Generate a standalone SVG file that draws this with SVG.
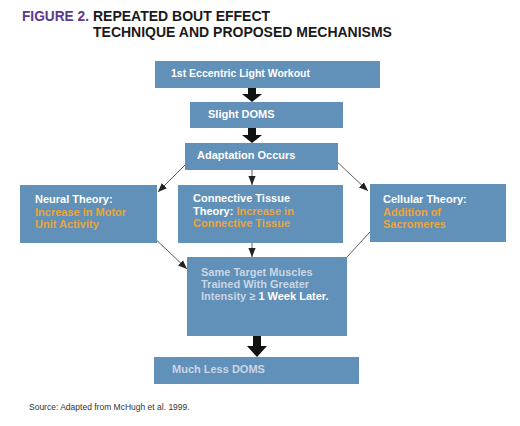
<svg xmlns="http://www.w3.org/2000/svg" width="520" height="426" viewBox="0 0 520 426">
<defs>
<style>
.box{fill:#6190b8;}
.t{font-family:"Liberation Sans",Arial,sans-serif;font-weight:bold;font-size:11px;fill:#ffffff;}
.o{fill:#eaa63c;}
.l{fill:#c9d6e6;}
.thin{stroke:#333333;stroke-width:0.8;fill:none;marker-end:url(#ah);}
.thick{fill:#111111;}
</style>
<marker id="ah" viewBox="0 0 10 10" refX="10" refY="5" markerWidth="9" markerHeight="9" markerUnits="userSpaceOnUse" orient="auto">
<path d="M0,1 L10,5 L0,9 Z" fill="#222222"/>
</marker>
</defs>
<rect width="520" height="426" fill="#ffffff"/>
<g id="title" font-family="Liberation Sans,Arial,sans-serif" font-weight="bold" font-size="14">
<text x="22" y="21" fill="#5b3a8c" textLength="67" lengthAdjust="spacingAndGlyphs">FIGURE 2.</text>
<text x="93" y="21" fill="#1a1a1a">REPEATED BOUT EFFECT</text>
<text x="93" y="37" fill="#1a1a1a">TECHNIQUE AND PROPOSED MECHANISMS</text>
</g>
<g id="connectors">
<path class="thick" d="M248,88 H256 V94 H262 L252,102 L242,94 H248 Z"/>
<path class="thick" d="M248,128 H256 V135 H262 L252,143 L242,135 H248 Z"/>
<path class="thick" d="M253,336 H261 V346 H267 L257,357 L247,346 H253 Z"/>
<line class="thin" x1="190" y1="160" x2="158" y2="192"/>
<line class="thin" x1="252" y1="165" x2="252" y2="185"/>
<line class="thin" x1="333" y1="158" x2="368" y2="191"/>
<line class="thin" x1="150" y1="234" x2="187" y2="269"/>
<line class="thin" x1="252" y1="243" x2="252" y2="257"/>
<line class="thin" x1="370" y1="232" x2="335" y2="270"/>
</g>
<g id="n1"><rect class="box" x="155" y="61" width="225" height="27"/><text class="t" x="171" y="77" textLength="139" lengthAdjust="spacingAndGlyphs">1st Eccentric Light Workout</text></g>
<g id="n2"><rect class="box" x="190" y="102" width="153" height="26"/><text class="t" x="208" y="118">Slight DOMS</text></g>
<g id="n3"><rect class="box" x="185" y="143" width="153" height="27"/><text class="t" x="197" y="159">Adaptation Occurs</text></g>
<g id="n4"><rect class="box" x="20" y="185" width="137" height="58"/>
<text class="t" x="35" y="203">Neural Theory:</text>
<text class="t o" x="35" y="216">Increase in Motor</text>
<text class="t o" x="35" y="228">Unit Activity</text></g>
<g id="n5"><rect class="box" x="178" y="185" width="165" height="58"/>
<text class="t" x="193" y="202">Connective Tissue</text>
<text class="t" x="193" y="215">Theory: <tspan class="o">Increase in</tspan></text>
<text class="t o" x="193" y="227">Connective Tissue</text></g>
<g id="n6"><rect class="box" x="370" y="184" width="136" height="58"/>
<text class="t" x="383" y="203">Cellular Theory:</text>
<text class="t o" x="383" y="216">Addition of</text>
<text class="t o" x="383" y="228">Sacromeres</text></g>
<g id="n7"><rect class="box" x="187" y="257" width="160" height="79"/>
<text class="t l" x="201" y="276">Same Target Muscles</text>
<text class="t l" x="201" y="288">Trained With Greater</text>
<text class="t l" x="201" y="300">Intensity ≥ <tspan fill="#ffffff">1 Week Later.</tspan></text></g>
<g id="n8"><rect class="box" x="154" y="357" width="205" height="27"/><text class="t l" x="172" y="373">Much Less DOMS</text></g>
<text x="29" y="410" font-family="Liberation Sans,Arial,sans-serif" font-size="8.5" fill="#333333">Source: Adapted from McHugh et al. 1999.</text>
</svg>
